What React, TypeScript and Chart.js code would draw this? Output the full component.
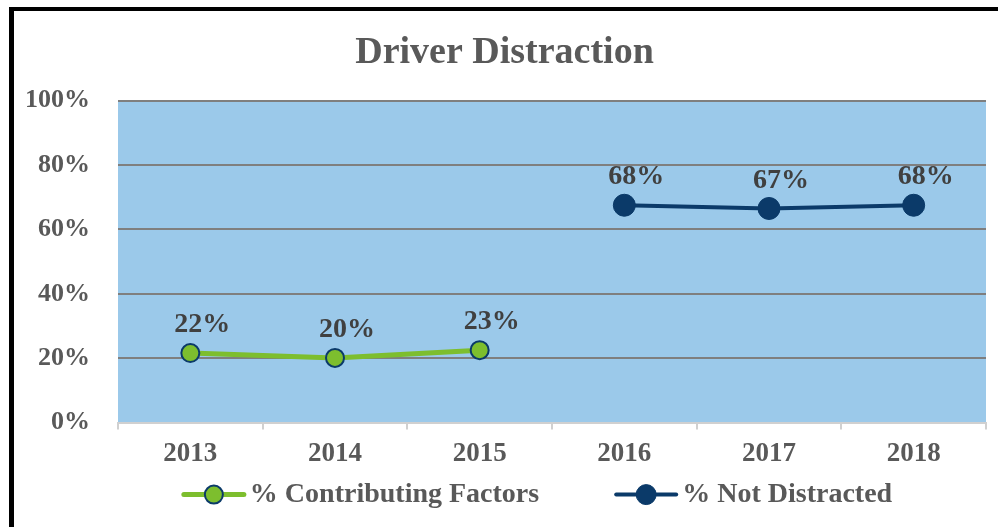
import React, { useEffect, useRef } from "react";
import { Chart, registerables } from "chart.js";

Chart.register(...registerables);

const chartTitle = "Driver Distraction";
const categories = ["2013", "2014", "2015", "2016", "2017", "2018"];
const contributingFactors: (number | null)[] = [21.6, 20.1, 22.5, null, null, null];
const notDistracted: (number | null)[] = [null, null, null, 67.5, 66.5, 67.5];
const seriesNames = ["% Contributing Factors", "% Not Distracted"];
const yMin = 0;
const yMax = 100;
const yStep = 20;

const FONT = "'Liberation Serif', 'Times New Roman', serif";
const GREEN = "#7DBE2E";
const NAVY = "#0B3A69";
const TEXT = "#595959";
const LABEL_TEXT = "#404040";

const backgroundPlugin = {
  id: "plotBackground",
  beforeDraw(chart: any) {
    const { ctx, chartArea } = chart;
    ctx.save();
    ctx.fillStyle = "#9BC9EA";
    ctx.fillRect(chartArea.left, chartArea.top, chartArea.right - chartArea.left, chartArea.bottom - chartArea.top);
    ctx.restore();
  },
};

const framePlugin = {
  id: "frame",
  afterDraw(chart: any) {
    const { ctx, width, height } = chart;
    ctx.save();
    ctx.fillStyle = "#000000";
    ctx.fillRect(9, 7, 5, height - 7);
    ctx.fillRect(9, 7, width - 9, 4);
    ctx.restore();
  },
};

const dataLabelPlugin = {
  id: "dataLabels",
  afterDatasetsDraw(chart: any) {
    const { ctx } = chart;
    ctx.save();
    ctx.font = `bold 28px ${FONT}`;
    ctx.fillStyle = LABEL_TEXT;
    ctx.textAlign = "center";
    ctx.textBaseline = "middle";
    chart.data.datasets.forEach((ds: any, i: number) => {
      const meta = chart.getDatasetMeta(i);
      meta.data.forEach((pt: any, j: number) => {
        const v = ds.data[j];
        if (v === null || v === undefined) return;
        ctx.fillText(Math.round(v) + "%", pt.x + 12, pt.y - 28);
      });
    });
    ctx.restore();
  },
};

const legendPlugin = {
  id: "customLegend",
  afterDraw(chart: any) {
    const { ctx, chartArea } = chart;
    ctx.save();
    ctx.font = `bold 28px ${FONT}`;
    const sample = 60;
    const gap = 6;
    const itemGap = 77;
    const items = chart.data.datasets.map((ds: any) => ({
      ds,
      w: sample + gap + ctx.measureText(ds.label).width,
    }));
    const total = items.reduce((s: number, it: any) => s + it.w, 0) + itemGap * (items.length - 1);
    const cx = (chartArea.left + chartArea.right) / 2 - 14;
    let x = cx - total / 2;
    const y = chartArea.bottom + 72;
    items.forEach((it: any) => {
      const ds = it.ds;
      ctx.strokeStyle = ds.borderColor;
      ctx.lineWidth = ds.borderWidth;
      ctx.lineCap = "round";
      ctx.beginPath();
      ctx.moveTo(x, y);
      ctx.lineTo(x + sample, y);
      ctx.stroke();
      ctx.beginPath();
      ctx.arc(x + sample / 2, y, ds.legendRadius, 0, Math.PI * 2);
      ctx.fillStyle = ds.pointBackgroundColor;
      ctx.fill();
      ctx.lineWidth = ds.pointBorderWidth;
      ctx.strokeStyle = ds.pointBorderColor;
      ctx.stroke();
      ctx.fillStyle = TEXT;
      ctx.textAlign = "left";
      ctx.textBaseline = "middle";
      ctx.fillText(ds.label, x + sample + gap, y);
      x += it.w + itemGap;
    });
    ctx.restore();
  },
};

export default function App() {
  const ref = useRef<HTMLCanvasElement | null>(null);

  useEffect(() => {
    if (!ref.current) return;
    const chart = new Chart(ref.current, {
      type: "line",
      data: {
        labels: categories,
        datasets: [
          {
            label: seriesNames[0],
            data: contributingFactors,
            borderColor: GREEN,
            borderWidth: 5,
            pointRadius: 9,
            pointHoverRadius: 9,
            pointBackgroundColor: GREEN,
            pointBorderColor: NAVY,
            pointBorderWidth: 2,
            spanGaps: false,
            tension: 0,
            legendRadius: 9,
          } as any,
          {
            label: seriesNames[1],
            data: notDistracted,
            borderColor: NAVY,
            borderWidth: 4,
            pointRadius: 11,
            pointHoverRadius: 11,
            pointBackgroundColor: NAVY,
            pointBorderColor: NAVY,
            pointBorderWidth: 1,
            spanGaps: false,
            tension: 0,
            legendRadius: 10,
          } as any,
        ],
      },
      options: {
        responsive: false,
        animation: false,
        devicePixelRatio: 1,
        layout: { padding: { left: 22, right: 11, top: 12, bottom: 49 } },
        plugins: {
          legend: { display: false },
          tooltip: { enabled: false },
          title: {
            display: true,
            text: chartTitle,
            color: TEXT,
            font: { family: FONT, size: 38, weight: "bold" },
            padding: { top: 18, bottom: 25 },
          },
        },
        scales: {
          x: {
            offset: true,
            grid: {
              offset: true,
              drawOnChartArea: false,
              drawTicks: true,
              tickLength: 7,
              color: "#D0D0D0",
              lineWidth: 2,
            },
            border: { display: true, color: "#D0D0D0", width: 2 },
            ticks: {
              color: TEXT,
              font: { family: FONT, size: 27, weight: "bold" },
              padding: 8,
              maxRotation: 0,
            },
          },
          y: {
            min: yMin,
            max: yMax,
            afterFit(scale: any) {
              scale.width = 96;
            },
            grid: {
              drawTicks: false,
              color: (c: any) => (c.tick && c.tick.value === 0 ? "rgba(0,0,0,0)" : "#7F7F7F"),
              lineWidth: 2,
            },
            border: { display: false },
            ticks: {
              stepSize: yStep,
              color: TEXT,
              font: { family: FONT, size: 26, weight: "bold" },
              padding: 28,
              callback: (v: any) => v + "%",
            },
          },
        },
      },
      plugins: [backgroundPlugin, dataLabelPlugin, legendPlugin, framePlugin],
    });
    return () => chart.destroy();
  }, []);

  return (
    <div style={{ position: "absolute", left: 0, top: 0, width: 998, height: 527, background: "#ffffff" }}>
      <canvas ref={ref} width={998} height={527} style={{ display: "block", width: 998, height: 527 }} />
    </div>
  );
}
